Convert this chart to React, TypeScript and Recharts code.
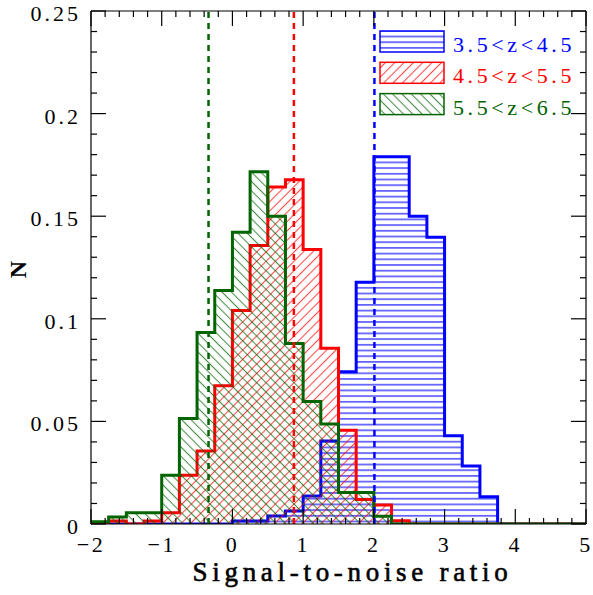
import React from 'react';
import { ComposedChart, Area, XAxis, YAxis, ReferenceLine, Legend, Label } from 'recharts';

// Histogram bin edges (signal-to-noise ratio), bin width 0.25
const BIN_EDGES = [
  -2, -1.75, -1.5, -1.25, -1, -0.75, -0.5, -0.25, 0, 0.25, 0.5, 0.75, 1, 1.25,
  1.5, 1.75, 2, 2.25, 2.5, 2.75, 3, 3.25, 3.5, 3.75, 4, 4.25, 4.5, 4.75, 5,
];

// Normalised counts per bin (value of the bin starting at the matching edge)
const N_Z4 = [
  0, 0, 0, 0, 0, 0, 0, 0, 0.0015, 0.0015, 0.0039, 0.0063, 0.0137, 0.0405,
  0.0742, 0.1178, 0.179, 0.179, 0.15, 0.1398, 0.043, 0.0283, 0.0133, 0, 0, 0, 0, 0,
];
const N_Z5 = [
  0, 0.0015, 0, 0.0015, 0.0055, 0.0238, 0.0356, 0.0674, 0.104, 0.1357, 0.1642,
  0.1678, 0.1338, 0.0856, 0.0457, 0.012, 0.0093, 0.0016, 0, 0, 0, 0, 0, 0, 0, 0, 0, 0,
];
const N_Z6 = [
  0.0011, 0.0034, 0.0055, 0.0055, 0.0238, 0.0514, 0.0933, 0.1138, 0.1422, 0.1717,
  0.15, 0.088, 0.0597, 0.0487, 0.0153, 0.0153, 0.0038, 0, 0, 0, 0, 0, 0, 0, 0, 0, 0, 0,
];

const SERIES_LABELS = ['3.5<z<4.5', '4.5<z<5.5', '5.5<z<6.5'];
const SERIES_KEYS = ['z4', 'z5', 'z6'];
const SERIES_COLORS = ['#0000ff', '#ff0000', '#006400'];
const SERIES_HATCH = ['hatchBlue', 'hatchRed', 'hatchGreen'];

// Median S/N of each redshift bin (dashed lines)
const MEDIAN_SNR = [2.008, 0.869, -0.338];

const X_TICKS = [
  -2, -1.8, -1.6, -1.4, -1.2, -1, -0.8, -0.6, -0.4, -0.2, 0, 0.2, 0.4, 0.6, 0.8,
  1, 1.2, 1.4, 1.6, 1.8, 2, 2.2, 2.4, 2.6, 2.8, 3, 3.2, 3.4, 3.6, 3.8, 4, 4.2,
  4.4, 4.6, 4.8, 5,
];
const Y_TICKS = [
  0, 0.01, 0.02, 0.03, 0.04, 0.05, 0.06, 0.07, 0.08, 0.09, 0.1, 0.11, 0.12, 0.13,
  0.14, 0.15, 0.16, 0.17, 0.18, 0.19, 0.2, 0.21, 0.22, 0.23, 0.24, 0.25,
];

const rows = BIN_EDGES.map((snr, i) => ({
  snr,
  z4: N_Z4[i] ?? 0,
  z5: N_Z5[i] ?? 0,
  z6: N_Z6[i] ?? 0,
}));

const TICK_FONT = "'Liberation Serif', 'Times New Roman', serif";
const MAJOR_LEN = 15;
const MINOR_LEN = 6;

const onStep = (v: number, step: number) => Math.abs(v / step - Math.round(v / step)) < 1e-6;
const fmtX = (v: number) => (v < 0 ? '\u2212' + String(Math.abs(Math.round(v))) : String(Math.round(v)));
const fmtY = (v: number) => String(Math.round(v * 100) / 100);

const BottomTick = (p: any) => {
  const { x, y, payload } = p;
  const major = onStep(payload.value, 1);
  return (
    <g>
      <line x1={x} x2={x} y1={y} y2={y - (major ? MAJOR_LEN : MINOR_LEN)} stroke="#000" strokeWidth={1.2} />
      {major && (
        <text x={x} y={y + 28} textAnchor="middle" fontFamily={TICK_FONT} fontSize={22} letterSpacing={2.5} fill="#000">
          {fmtX(payload.value)}
        </text>
      )}
    </g>
  );
};

const TopTick = (p: any) => {
  const { x, y, payload } = p;
  const major = onStep(payload.value, 1);
  return <line x1={x} x2={x} y1={y} y2={y + (major ? MAJOR_LEN : MINOR_LEN)} stroke="#000" strokeWidth={1.2} />;
};

const LeftTick = (p: any) => {
  const { x, y, payload } = p;
  const major = onStep(payload.value, 0.05);
  return (
    <g>
      <line x1={x} x2={x + (major ? MAJOR_LEN : MINOR_LEN)} y1={y} y2={y} stroke="#000" strokeWidth={1.2} />
      {major && (
        <text x={x - 10} y={y + 10} textAnchor="end" fontFamily={TICK_FONT} fontSize={22} letterSpacing={3} fill="#000">
          {fmtY(payload.value)}
        </text>
      )}
    </g>
  );
};

const RightTick = (p: any) => {
  const { x, y, payload } = p;
  const major = onStep(payload.value, 0.05);
  return <line x1={x} x2={x - (major ? MAJOR_LEN : MINOR_LEN)} y1={y} y2={y} stroke="#000" strokeWidth={1.2} />;
};

const TITLE_FONT = "'Liberation Serif', 'Times New Roman', serif";

const XTitle = (p: any) => {
  const vb = p.viewBox || {};
  return (
    <text
      x={vb.x + vb.width / 2 + 14}
      y={vb.y + 57}
      textAnchor="middle"
      fontFamily={TITLE_FONT}
      fontSize={27}
      letterSpacing={4.7}
      fill="#000"
      stroke="#000"
      strokeWidth={0.6}
    >
      Signal-to-noise ratio
    </text>
  );
};

const YTitle = (p: any) => {
  const vb = p.viewBox || {};
  const cx = 18;
  const cy = vb.y + vb.height / 2 + 2;
  return (
    <text
      x={cx}
      y={cy}
      transform={`rotate(-90 ${cx} ${cy})`}
      textAnchor="middle"
      dominantBaseline="central"
      fontFamily={TITLE_FONT}
      fontWeight="bold"
      fontSize={24}
      fill="#000"
    >
      N
    </text>
  );
};

const HatchLegend = () => (
  <svg width={215} height={95} style={{ display: 'block', overflow: 'visible' }}>
    {SERIES_LABELS.map((label, i) => {
      const top = 3 + i * 31.3;
      return (
        <g key={label}>
          <rect
            x={2}
            y={top}
            width={64}
            height={21}
            fill={`url(#${SERIES_HATCH[i]})`}
            stroke={SERIES_COLORS[i]}
            strokeWidth={1.5}
          />
          <text
            x={75}
            y={top + 21}
            fontFamily={TICK_FONT}
            fontSize={22}
            letterSpacing={3.6}
            fill={SERIES_COLORS[i]}
          >
            {label}
          </text>
        </g>
      );
    })}
  </svg>
);

export default function App() {
  return (
    <div style={{ position: 'absolute', left: 0, top: 0, width: 593, height: 595, background: '#fff' }}>
      <ComposedChart width={593} height={595} data={rows} margin={{ top: 0, right: 0, bottom: 0, left: 0 }}>
        <defs>
          <pattern id="hatchBlue" patternUnits="userSpaceOnUse" width={8} height={5.7}>
            <line x1={0} x2={8} y1={2.8} y2={2.8} stroke="#0000ff" strokeWidth={1.2} strokeOpacity={0.9} />
          </pattern>
          <pattern id="hatchRed" patternUnits="userSpaceOnUse" width={6.6} height={6.6} patternTransform="rotate(45)">
            <line x1={3.3} x2={3.3} y1={0} y2={6.6} stroke="#ff0000" strokeWidth={1.1} strokeOpacity={0.7} />
          </pattern>
          <pattern id="hatchGreen" patternUnits="userSpaceOnUse" width={6.6} height={6.6} patternTransform="rotate(-45)">
            <line x1={3.3} x2={3.3} y1={0} y2={6.6} stroke="#006400" strokeWidth={1.1} strokeOpacity={0.7} />
          </pattern>
        </defs>

        <XAxis
          dataKey="snr"
          type="number"
          domain={[-2, 5]}
          ticks={X_TICKS}
          interval={0}
          height={71}
          tickSize={0}
          tickMargin={0}
          tickLine={false}
          axisLine={{ stroke: '#000', strokeWidth: 1.2 }}
          tick={BottomTick}
          allowDataOverflow
        >
          <Label content={XTitle} />
        </XAxis>
        <XAxis
          xAxisId="top"
          orientation="top"
          dataKey="snr"
          type="number"
          domain={[-2, 5]}
          ticks={X_TICKS}
          interval={0}
          height={11}
          tickSize={0}
          tickMargin={0}
          tickLine={false}
          axisLine={{ stroke: '#000', strokeWidth: 1.2 }}
          tick={TopTick}
          allowDataOverflow
        />
        <YAxis
          type="number"
          domain={[0, 0.25]}
          ticks={Y_TICKS}
          interval={0}
          width={91}
          tickSize={0}
          tickMargin={0}
          tickLine={false}
          axisLine={{ stroke: '#000', strokeWidth: 1.2 }}
          tick={LeftTick}
          allowDataOverflow
        >
          <Label content={YTitle} />
        </YAxis>
        <YAxis
          yAxisId="right"
          orientation="right"
          type="number"
          domain={[0, 0.25]}
          ticks={Y_TICKS}
          interval={0}
          width={7}
          tickSize={0}
          tickMargin={0}
          tickLine={false}
          axisLine={{ stroke: '#000', strokeWidth: 1.2 }}
          tick={RightTick}
          allowDataOverflow
        />

        {SERIES_KEYS.map((k, i) => (
          <Area
            key={k}
            dataKey={k}
            name={SERIES_LABELS[i]}
            type="stepAfter"
            stroke={SERIES_COLORS[i]}
            strokeWidth={3}
            fill={`url(#${SERIES_HATCH[i]})`}
            fillOpacity={1}
            dot={false}
            activeDot={false}
            isAnimationActive={false}
          />
        ))}

        {MEDIAN_SNR.map((m, i) => (
          <ReferenceLine
            key={SERIES_KEYS[i]}
            x={m}
            stroke={SERIES_COLORS[i]}
            strokeWidth={2.5}
            strokeDasharray="6 5"
          />
        ))}

        <Legend
          layout="vertical"
          align="center"
          verticalAlign="middle"
          content={HatchLegend}
          wrapperStyle={{ position: 'absolute', left: 378, top: 28, width: 215, height: 95 }}
        />
      </ComposedChart>
    </div>
  );
}
